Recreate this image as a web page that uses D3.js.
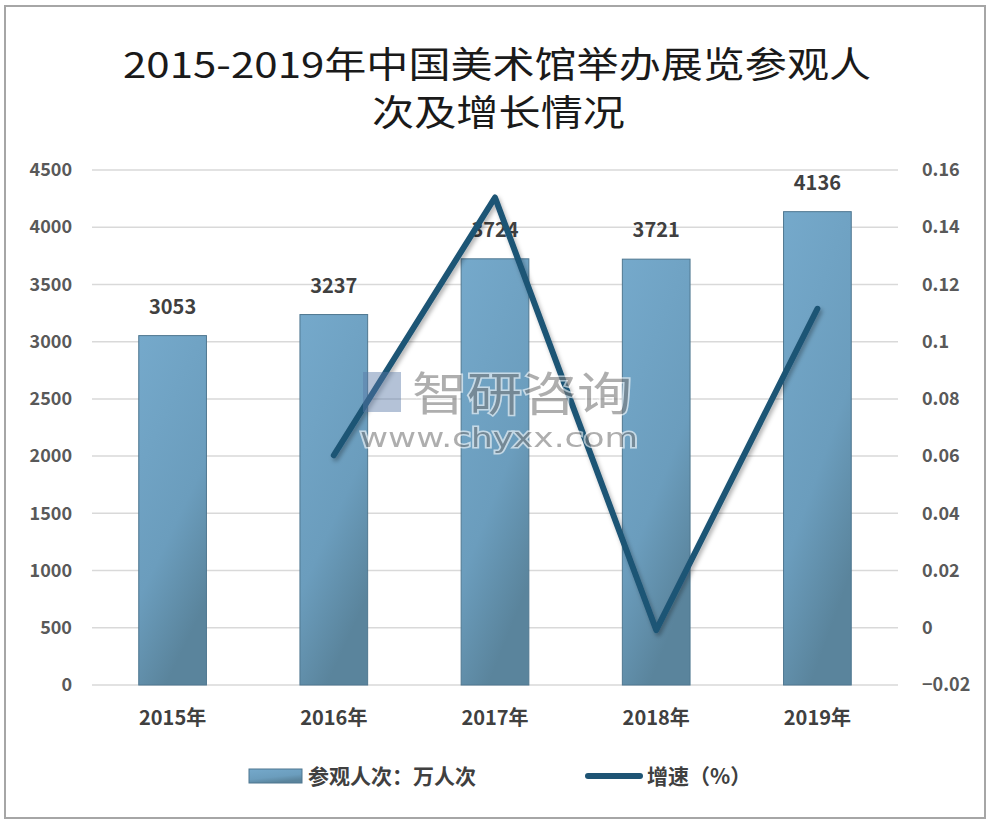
<!DOCTYPE html>
<html>
<head>
<meta charset="utf-8">
<script src="https://cdn.jsdelivr.net/npm/d3@7"></script>
<style>
  body { margin: 0; background: #fff; }
  svg text { font-family: "Noto Sans CJK SC", "Liberation Sans", sans-serif; }
</style>
</head>
<body>
<div id="chart"></div>
<script>
// data
const years = ["2015年", "2016年", "2017年", "2018年", "2019年"];
const visitors = [3053, 3237, 3724, 3721, 4136];
const growth = [null, 0.0603, 0.1504, -0.0008, 0.1115];
const leftTicks = [0, 500, 1000, 1500, 2000, 2500, 3000, 3500, 4000, 4500];
const rightTicks = [-0.02, 0, 0.02, 0.04, 0.06, 0.08, 0.1, 0.12, 0.14, 0.16];

const W = 990, H = 826;
const margin = { top: 170, right: 92, bottom: 141, left: 92 };
const width = W - margin.left - margin.right;
const height = H - margin.top - margin.bottom;

const svg = d3.select("#chart").append("svg")
    .attr("width", W)
    .attr("height", H);

const defs = svg.append("defs");
const grad = defs.append("linearGradient")
    .attr("id", "barGrad")
    .attr("x1", "0").attr("y1", "0").attr("x2", "0.4").attr("y2", "1");
grad.append("stop").attr("offset", "0%").attr("stop-color", "#75a9cb");
grad.append("stop").attr("offset", "65%").attr("stop-color", "#6b9dbd");
grad.append("stop").attr("offset", "100%").attr("stop-color", "#5a849c");

const shadow = defs.append("filter").attr("id", "shadow")
    .attr("x", "-10%").attr("y", "-10%").attr("width", "130%").attr("height", "130%");
shadow.append("feDropShadow")
    .attr("dx", 2).attr("dy", 3).attr("stdDeviation", 2)
    .attr("flood-color", "#000").attr("flood-opacity", 0.3);

// frame
svg.append("rect")
    .attr("x", 5).attr("y", 6)
    .attr("width", 980).attr("height", 812)
    .attr("fill", "none")
    .attr("stroke", "#a6a6a6")
    .attr("stroke-width", 2);

// title
const title = svg.append("g")
    .attr("fill", "#1a1a1a")
    .attr("font-size", 36);
title.append("text")
    .attr("x", 123).attr("y", 78)
    .attr("textLength", 748).attr("lengthAdjust", "spacingAndGlyphs")
    .text("2015-2019年中国美术馆举办展览参观人");
title.append("text")
    .attr("x", 372).attr("y", 126)
    .attr("textLength", 253).attr("lengthAdjust", "spacingAndGlyphs")
    .text("次及增长情况");

const g = svg.append("g")
    .attr("transform", `translate(${margin.left},${margin.top})`);

// scales
const x = d3.scaleBand().domain(years).range([0, width]).paddingInner(0.58).paddingOuter(0.29);
const y = d3.scaleLinear().domain([0, 4500]).range([height, 0]);
const y2 = d3.scaleLinear().domain([-0.02, 0.16]).range([height, 0]);

// grid lines
g.append("g")
    .selectAll("line")
    .data(leftTicks)
    .join("line")
    .attr("x1", 0).attr("x2", width)
    .attr("y1", d => y(d)).attr("y2", d => y(d))
    .attr("stroke", "#d9d9d9")
    .attr("stroke-width", 1.5);

// left axis
const yAxis = g.append("g")
    .call(d3.axisLeft(y).tickValues(leftTicks).tickSize(0).tickPadding(20).tickFormat(d3.format("d")));
yAxis.select(".domain").remove();
yAxis.selectAll("text")
    .attr("fill", "#595959")
    .attr("font-size", 18)
    .attr("font-weight", "bold");

// right axis
const y2Axis = g.append("g")
    .attr("transform", `translate(${width},0)`)
    .call(d3.axisRight(y2).tickValues(rightTicks).tickSize(0).tickPadding(24)
        .tickFormat(d => d3.format("~g")(+d.toFixed(2))));
y2Axis.select(".domain").remove();
y2Axis.selectAll("text")
    .attr("fill", "#595959")
    .attr("font-size", 18)
    .attr("font-weight", "bold");

// x axis
const xAxis = g.append("g")
    .attr("transform", `translate(0,${height})`)
    .call(d3.axisBottom(x).tickSize(0).tickPadding(26));
xAxis.select(".domain").remove();
xAxis.selectAll("text")
    .attr("fill", "#404040")
    .attr("font-size", 20)
    .attr("font-weight", "bold");

// bars
g.append("g")
    .selectAll("rect")
    .data(visitors)
    .join("rect")
    .attr("x", (d, i) => x(years[i]))
    .attr("y", d => y(d))
    .attr("width", x.bandwidth())
    .attr("height", d => height - y(d))
    .attr("fill", "url(#barGrad)")
    .attr("stroke", "#4f7790")
    .attr("stroke-width", 1);

// bar labels
g.append("g")
    .selectAll("text")
    .data(visitors)
    .join("text")
    .attr("x", (d, i) => x(years[i]) + x.bandwidth() / 2)
    .attr("y", d => y(d) - 22)
    .attr("text-anchor", "middle")
    .attr("fill", "#404040")
    .attr("font-size", 20)
    .attr("font-weight", "bold")
    .text(d => d);

// growth line
const lineGen = d3.line()
    .defined(d => d != null)
    .x((d, i) => x(years[i]) + x.bandwidth() / 2)
    .y(d => y2(d));

g.append("path")
    .datum(growth)
    .attr("fill", "none")
    .attr("stroke", "#1e5474")
    .attr("stroke-width", 6)
    .attr("stroke-linejoin", "round")
    .attr("stroke-linecap", "round")
    .attr("filter", "url(#shadow)")
    .attr("d", lineGen);

// watermark
const wm = svg.append("g").attr("opacity", 0.6);
wm.append("rect")
    .attr("x", 363).attr("y", 372).attr("width", 38).attr("height", 40)
    .attr("fill", "#5878a6").attr("opacity", 0.75);
wm.append("text")
    .attr("x", 412).attr("y", 410)
    .attr("font-size", 46)
    .attr("fill", "#7a7a7a")
    .attr("stroke", "#fff").attr("stroke-width", 3).attr("paint-order", "stroke")
    .attr("textLength", 220).attr("lengthAdjust", "spacingAndGlyphs")
    .text("智研咨询");
wm.append("text")
    .attr("x", 360).attr("y", 447)
    .attr("font-size", 27)
    .attr("fill", "#7a7a7a")
    .attr("stroke", "#fff").attr("stroke-width", 3).attr("paint-order", "stroke")
    .attr("textLength", 278).attr("lengthAdjust", "spacingAndGlyphs")
    .style("font-family", "'DejaVu Sans', sans-serif")
    .text("www.chyxx.com");

// legend
const legend = svg.append("g").attr("transform", "translate(0,776)");
legend.append("rect")
    .attr("x", 249).attr("y", -7).attr("width", 53).attr("height", 14)
    .attr("fill", "url(#barGrad)")
    .attr("stroke", "#4f7790");
legend.append("text")
    .attr("x", 308).attr("y", 8)
    .attr("font-size", 21)
    .attr("font-weight", "bold")
    .attr("fill", "#404040")
    .text("参观人次：万人次");
legend.append("line")
    .attr("x1", 588).attr("x2", 640)
    .attr("y1", 0).attr("y2", 0)
    .attr("stroke", "#1e5474")
    .attr("stroke-width", 6)
    .attr("stroke-linecap", "round");
legend.append("text")
    .attr("x", 647).attr("y", 8)
    .attr("font-size", 21)
    .attr("font-weight", "bold")
    .attr("fill", "#404040")
    .text("增速（%）");
</script>
</body>
</html>
